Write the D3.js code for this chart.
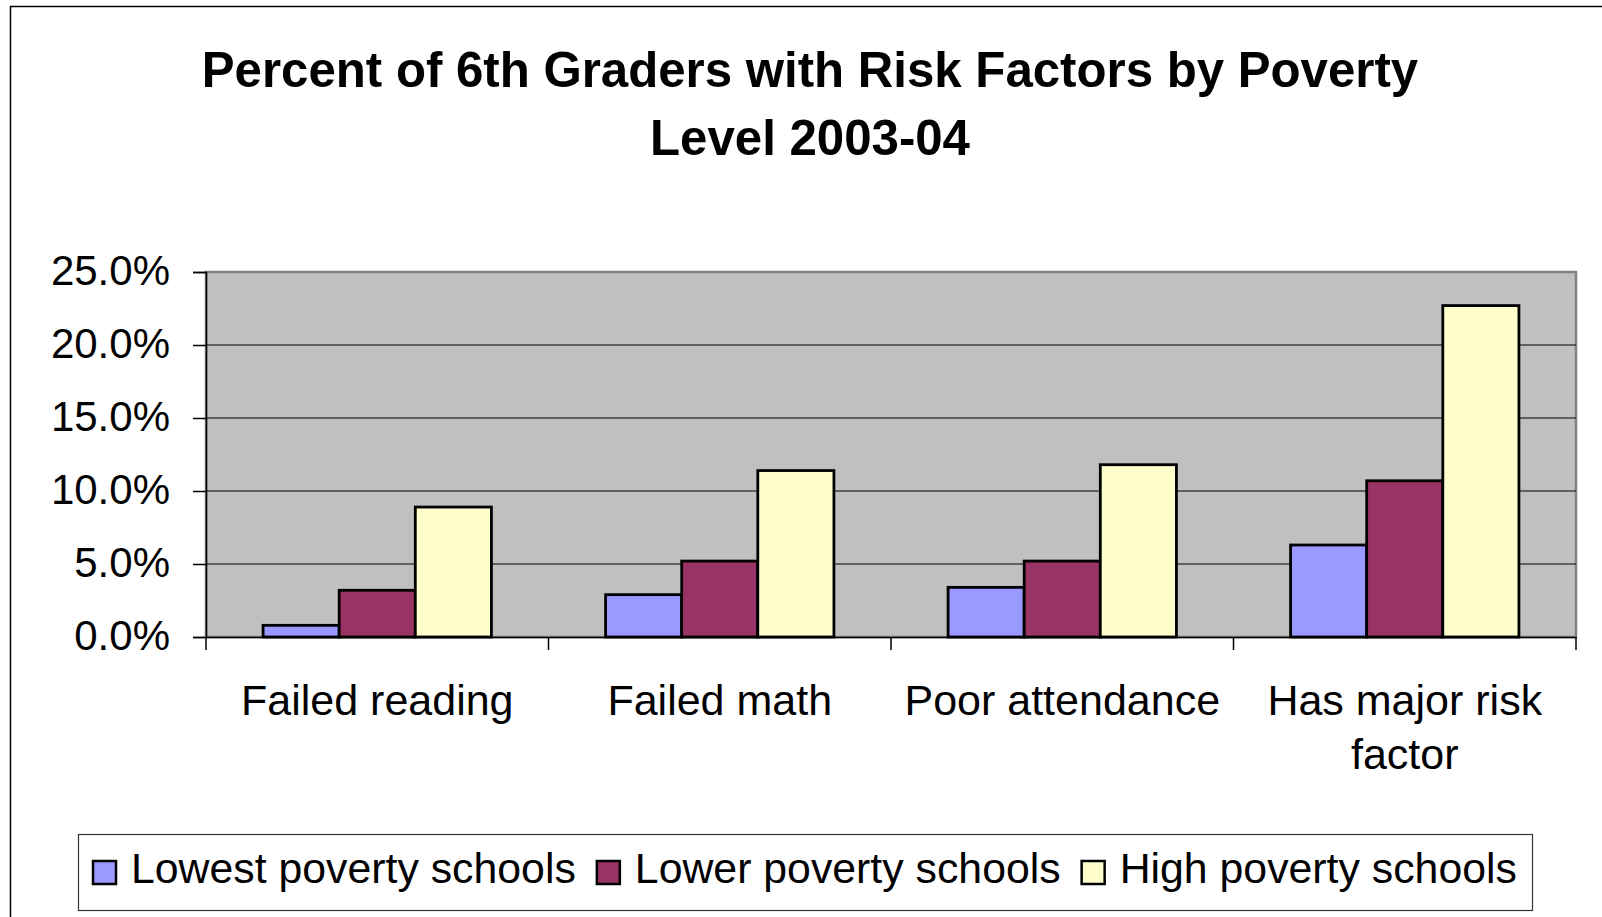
<!DOCTYPE html>
<html>
<head>
<meta charset="utf-8">
<script src="https://cdn.jsdelivr.net/npm/d3@7"></script>
<style>
  body { margin: 0; background: #fff; }
  svg { display: block; font-family: "Liberation Sans", Arial, sans-serif; }
</style>
</head>
<body>
<svg id="chart" width="1602" height="917"></svg>
<script>
const categories = ['Failed reading', 'Failed math', 'Poor attendance', 'Has major risk factor'];
const seriesNames = ['Lowest poverty schools', 'Lower poverty schools', 'High poverty schools'];
const lowestPoverty = [0.008, 0.029, 0.034, 0.063];
const lowerPoverty = [0.032, 0.052, 0.052, 0.107];
const highPoverty = [0.089, 0.114, 0.118, 0.227];
const yTicks = [0, 0.05, 0.10, 0.15, 0.20, 0.25];
const titleLines = ['Percent of 6th Graders with Risk Factors by Poverty', 'Level 2003-04'];
const colors = ['#9999FF', '#993366', '#FFFFCC'];

const seriesValues = [lowestPoverty, lowerPoverty, highPoverty];

const svg = d3.select('#chart');
const margin = { top: 272, left: 206 };
const width = 1370;
const height = 365;

// outer chart frame (right and bottom edges run off the picture)
svg.append('rect')
  .attr('x', 10.5).attr('y', 6.5)
  .attr('width', 1700).attr('height', 1000)
  .attr('fill', 'none').attr('stroke', '#000').attr('stroke-width', 1.5);

// title
svg.append('text')
  .attr('text-anchor', 'middle')
  .attr('font-size', 49.2).attr('font-weight', 'bold')
  .selectAll('tspan')
  .data(titleLines)
  .enter()
  .append('tspan')
  .attr('x', 810)
  .attr('y', (d, i) => 87 + i * 68)
  .text(d => d);

const g = svg.append('g').attr('transform', `translate(${margin.left},${margin.top})`);

const x0 = d3.scaleBand().domain(categories).range([0, width]).padding(0);
const x1 = d3.scaleBand().domain(seriesNames).range([0, x0.bandwidth()])
  .paddingInner(0).paddingOuter(0.75);
const y = d3.scaleLinear().domain([0, 0.25]).range([height, 0]);

// plot area
g.append('rect')
  .attr('width', width).attr('height', height)
  .attr('fill', '#C0C0C0').attr('stroke', '#808080').attr('stroke-width', 2.5);

// gridlines
g.selectAll('.grid')
  .data(yTicks.filter(t => t > 0 && t < 0.25))
  .enter()
  .append('line')
  .attr('x1', 0).attr('x2', width)
  .attr('y1', d => y(d)).attr('y2', d => y(d))
  .attr('stroke', '#000').attr('stroke-width', 1.2);

// bars
const groups = g.selectAll('.group')
  .data(categories)
  .enter()
  .append('g')
  .attr('transform', d => `translate(${x0(d)},0)`);

groups.selectAll('rect')
  .data((c, ci) => seriesNames.map((s, si) => ({ s, si, v: seriesValues[si][ci] })))
  .enter()
  .append('rect')
  .attr('x', d => x1(d.s))
  .attr('y', d => y(d.v))
  .attr('width', x1.bandwidth())
  .attr('height', d => y(0) - y(d.v))
  .attr('fill', d => colors[d.si])
  .attr('stroke', '#000').attr('stroke-width', 2.8);

// y axis
const yAxis = g.append('g')
  .call(d3.axisLeft(y).tickValues(yTicks).tickFormat(d3.format('.1%')).tickSize(13).tickPadding(23));
yAxis.select('.domain').attr('stroke', '#000').attr('stroke-width', 1.5);
yAxis.selectAll('.tick line').attr('stroke', '#000').attr('stroke-width', 1.5);
yAxis.selectAll('text')
  .attr('font-size', 42).attr('font-family', '"Liberation Sans", Arial, sans-serif')
  .attr('fill', '#000').attr('dy', '0.3em');

// x axis
const xAxis = g.append('g')
  .attr('transform', `translate(0,${height})`)
  .call(d3.axisBottom(x0).tickSize(0).tickPadding(47));
xAxis.select('.domain').attr('stroke', '#000').attr('stroke-width', 1.5);
xAxis.selectAll('text')
  .attr('font-size', 43).attr('font-family', '"Liberation Sans", Arial, sans-serif')
  .attr('fill', '#000')
  .each(function() { wrap(d3.select(this), x0.bandwidth() - 12); });

// category boundary ticks
xAxis.selectAll('.boundary')
  .data(categories.map(c => x0(c)).concat([width]))
  .enter()
  .append('line')
  .attr('x1', d => d).attr('x2', d => d)
  .attr('y1', 0).attr('y2', 13)
  .attr('stroke', '#000').attr('stroke-width', 1.5);

function wrap(text, maxWidth) {
  const words = text.text().split(/\s+/);
  const yPos = text.attr('y');
  text.text(null);
  let line = [];
  let lineNo = 0;
  let tspan = text.append('tspan').attr('x', 0).attr('y', yPos).attr('dy', '0.71em');
  words.forEach(w => {
    line.push(w);
    tspan.text(line.join(' '));
    if (tspan.node().getComputedTextLength() > maxWidth && line.length > 1) {
      line.pop();
      tspan.text(line.join(' '));
      line = [w];
      lineNo += 1;
      tspan = text.append('tspan').attr('x', 0).attr('y', yPos)
        .attr('dy', (0.71 + lineNo * 1.27) + 'em').text(w);
    }
  });
}

// legend
const legend = svg.append('g');
legend.append('rect')
  .attr('x', 78.5).attr('y', 834.5)
  .attr('width', 1454).attr('height', 76)
  .attr('fill', '#fff').attr('stroke', '#333').attr('stroke-width', 1.2);

let lx = 93;
seriesNames.forEach((name, i) => {
  legend.append('rect')
    .attr('x', lx).attr('y', 861)
    .attr('width', 23).attr('height', 23)
    .attr('fill', colors[i]).attr('stroke', '#000').attr('stroke-width', 2.5);
  const t = legend.append('text')
    .attr('x', lx + 38).attr('y', 883)
    .attr('font-size', 42.8).attr('fill', '#000')
    .text(name);
  lx += 38 + t.node().getComputedTextLength() + 21;
});
</script>
</body>
</html>
